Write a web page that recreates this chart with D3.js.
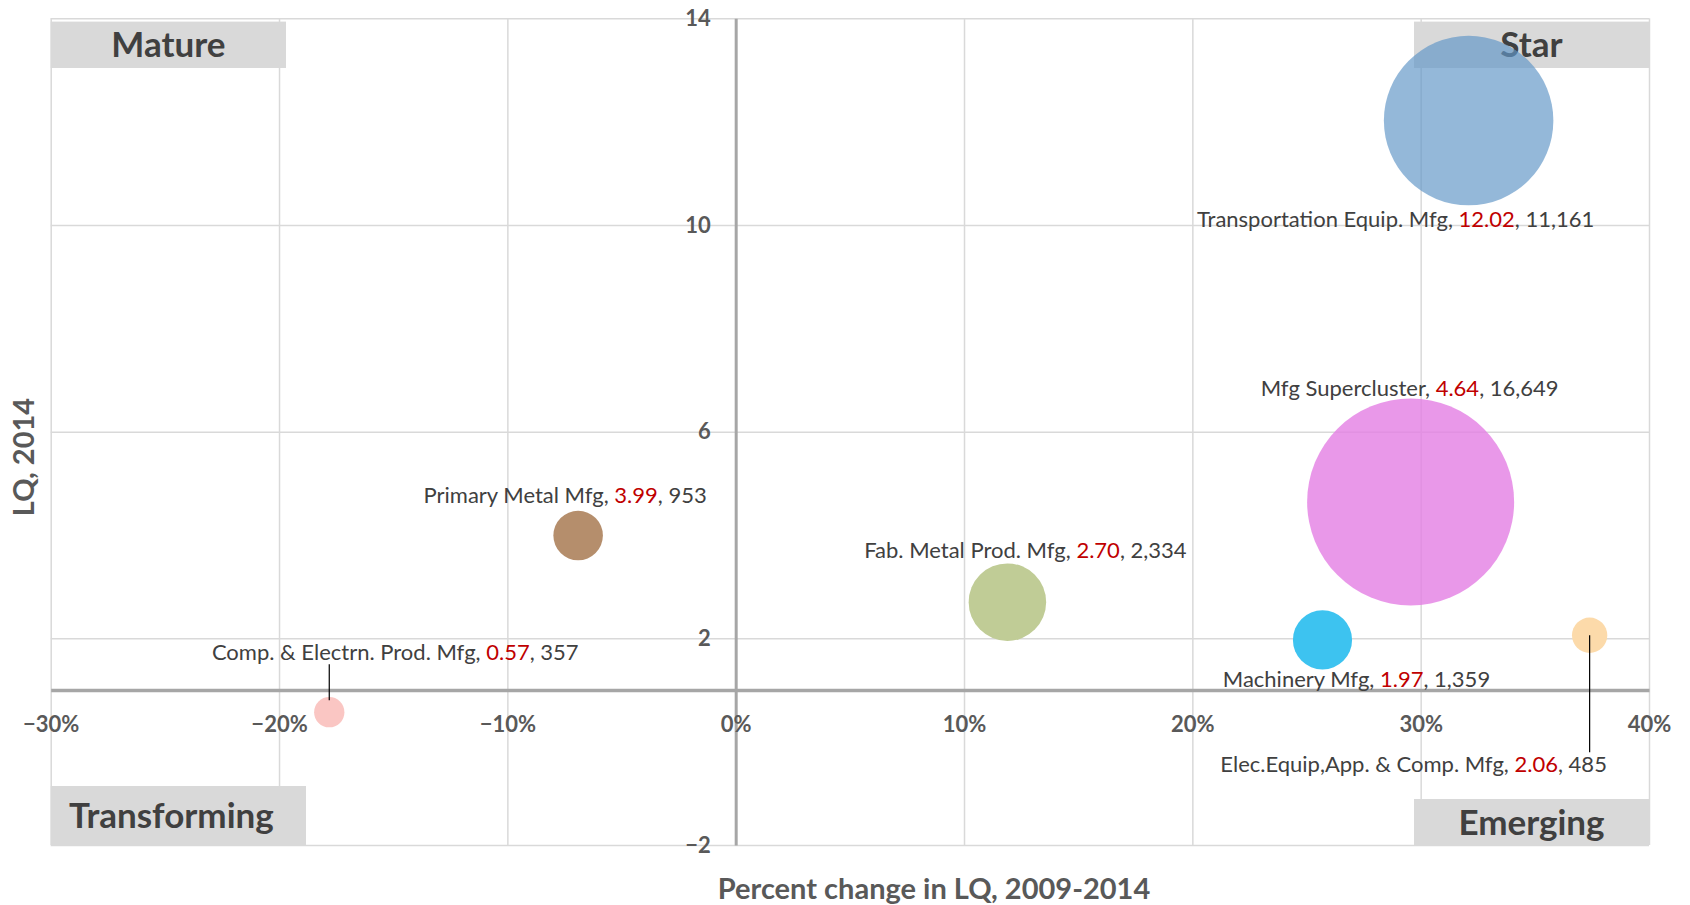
<!DOCTYPE html>
<html>
<head>
<meta charset="utf-8">
<script src="https://cdn.jsdelivr.net/npm/d3@7"></script>
<style>
  body { margin: 0; background: #fff; }
  svg text { font-family: Lato, "Open Sans", sans-serif; }
</style>
</head>
<body>
<svg id="chart" width="1690" height="905"></svg>
<script>
/* data */
const clusters = ["Transportation Equip. Mfg", "Mfg Supercluster", "Machinery Mfg",
  "Elec.Equip,App. & Comp. Mfg", "Fab. Metal Prod. Mfg", "Primary Metal Mfg", "Comp. & Electrn. Prod. Mfg"];
const pctChange = [0.321, 0.2956, 0.257, 0.374, 0.119, -0.069, -0.178];
const lq2014 = [12.02, 4.64, 1.97, 2.06, 2.70, 3.99, 0.57];
const employment = [11161, 16649, 1359, 485, 2334, 953, 357];
const xTicks = [-0.3, -0.2, -0.1, 0, 0.1, 0.2, 0.3, 0.4];
const yTicks = [-2, 2, 6, 10, 14];
const quadrants = ["Mature", "Star", "Transforming", "Emerging"];

/* styles / layout */
const colors = ["#6196C7", "#E37EE3", "#3DC3F0", "#FCDAAA", "#C0CC96", "#B58E6C", "#FAC6C3"];
const opac = [0.68, 0.8, 1, 1, 1, 1, 1];
// label offset from bubble centre (centre x, baseline y), leader flag
const labelOff = [[-73, 106, 0], [-1, -106, 0], [34, 47, 0], [-176, 137, 1], [18, -44, 0], [-13, -33, 0], [66, -52, 1]];
// quadrant boxes: x0, y0, x1, y1 (px), text shift
const boxPos = [[50.7, 21.6, 286, 68, 0], [1414, 21.6, 1649, 68, 0], [50.7, 786, 306, 845, -7], [1414, 799, 1649, 845, 0]];

const W = 1690, H = 905;
const plot = { left: 50.7, top: 18.3, right: 1649, bottom: 845 };

const x = d3.scaleLinear().domain([-0.3, 0.4]).range([plot.left, plot.right]);
const y = d3.scaleLinear().domain([-2, 14]).range([plot.bottom, plot.top]);
const r = d3.scaleSqrt().domain([0, d3.max(employment)]).range([0, 103.5]);

const svg = d3.select("#chart");
svg.append("rect").attr("width", W).attr("height", H).attr("fill", "#fff");

/* gridlines */
svg.append("g")
  .attr("transform", "translate(0," + plot.bottom + ")")
  .call(d3.axisBottom(x).tickValues(xTicks).tickSize(-(plot.bottom - plot.top)).tickFormat(""))
  .call(g => g.select(".domain").remove())
  .selectAll("line").attr("stroke", "#D9D9D9").attr("stroke-width", 1.5);

svg.append("g")
  .attr("transform", "translate(" + plot.left + ",0)")
  .call(d3.axisLeft(y).tickValues(yTicks).tickSize(-(plot.right - plot.left)).tickFormat(""))
  .call(g => g.select(".domain").remove())
  .selectAll("line").attr("stroke", "#D9D9D9").attr("stroke-width", 1.5);

/* quadrant boxes */
let qG = svg.append("g").attr("id", "quadrants");
quadrants.forEach((q, i) => {
  let b = boxPos[i];
  qG.append("rect")
    .attr("x", b[0]).attr("y", b[1])
    .attr("width", b[2] - b[0]).attr("height", b[3] - b[1])
    .attr("fill", "#D9D9D9");
  qG.append("text")
    .attr("x", (b[0] + b[2]) / 2 + b[4]).attr("y", (b[1] + b[3]) / 2)
    .attr("dy", "0.36em")
    .attr("text-anchor", "middle")
    .attr("font-size", 35).attr("font-weight", "bold")
    .attr("fill", "#404040")
    .text(q);
});

/* y axis at x = 0 */
svg.append("g")
  .attr("transform", "translate(" + x(0) + ",0)")
  .call(d3.axisLeft(y).tickValues(yTicks).tickSize(0).tickSizeOuter(0).tickPadding(25))
  .call(g => g.select(".domain").attr("stroke", "#A6A6A6").attr("stroke-width", 3))
  .selectAll("text")
  .attr("font-size", 22).attr("font-weight", "bold").attr("fill", "#595959")
  .attr("font-family", "Lato, sans-serif");

/* x axis crossing at LQ = 1 */
svg.append("g")
  .attr("transform", "translate(0," + y(1) + ")")
  .call(d3.axisBottom(x).tickValues(xTicks).tickSize(0).tickSizeOuter(0).tickPadding(26).tickFormat(d3.format(".0%")))
  .call(g => g.select(".domain").attr("stroke", "#A6A6A6").attr("stroke-width", 3.5))
  .selectAll("text")
  .attr("font-size", 22).attr("font-weight", "bold").attr("fill", "#595959")
  .attr("font-family", "Lato, sans-serif");

/* bubbles */
let data = clusters.map((c, i) => ({
  name: c, x: pctChange[i], y: lq2014[i], size: employment[i], i: i
}));

svg.append("g").attr("id", "bubbles")
  .selectAll("circle")
  .data(data)
  .join("circle")
  .attr("cx", d => x(d.x))
  .attr("cy", d => y(d.y))
  .attr("r", d => r(d.size))
  .attr("fill", d => colors[d.i])
  .attr("fill-opacity", d => opac[d.i]);

/* leader lines */
let lG = svg.append("g").attr("id", "labels");
data.filter(d => labelOff[d.i][2]).forEach(d => {
  let cx = x(d.x), cy = y(d.y), off = labelOff[d.i];
  let y1 = off[1] > 0 ? cy + off[1] - 20 : cy + off[1] + 4;
  lG.append("line")
    .attr("x1", cx).attr("x2", cx)
    .attr("y1", off[1] > 0 ? cy : cy - 12)
    .attr("y2", y1)
    .attr("stroke", "#000").attr("stroke-width", 1.2);
});

/* data labels */
lG.selectAll("text")
  .data(data)
  .join("text")
  .attr("x", d => x(d.x) + labelOff[d.i][0])
  .attr("y", d => y(d.y) + labelOff[d.i][1])
  .attr("text-anchor", "middle")
  .attr("font-size", 22)
  .attr("fill", "#404040")
  .each(function (d) {
    let t = d3.select(this);
    t.append("tspan").text(d.name + ", ");
    t.append("tspan").attr("fill", "#C00000").text(d3.format(".2f")(d.y));
    t.append("tspan").text(", " + d3.format(",")(d.size));
  });

/* axis titles */
svg.append("text")
  .attr("transform", "translate(24,457) rotate(-90)")
  .attr("text-anchor", "middle").attr("dy", "0.35em")
  .attr("font-size", 29).attr("font-weight", "bold").attr("fill", "#595959")
  .text("LQ, 2014");

svg.append("text")
  .attr("x", 934).attr("y", 889)
  .attr("text-anchor", "middle").attr("dy", "0.35em")
  .attr("font-size", 29).attr("font-weight", "bold").attr("fill", "#595959")
  .text("Percent change in LQ, 2009-2014");
</script>
</body>
</html>
